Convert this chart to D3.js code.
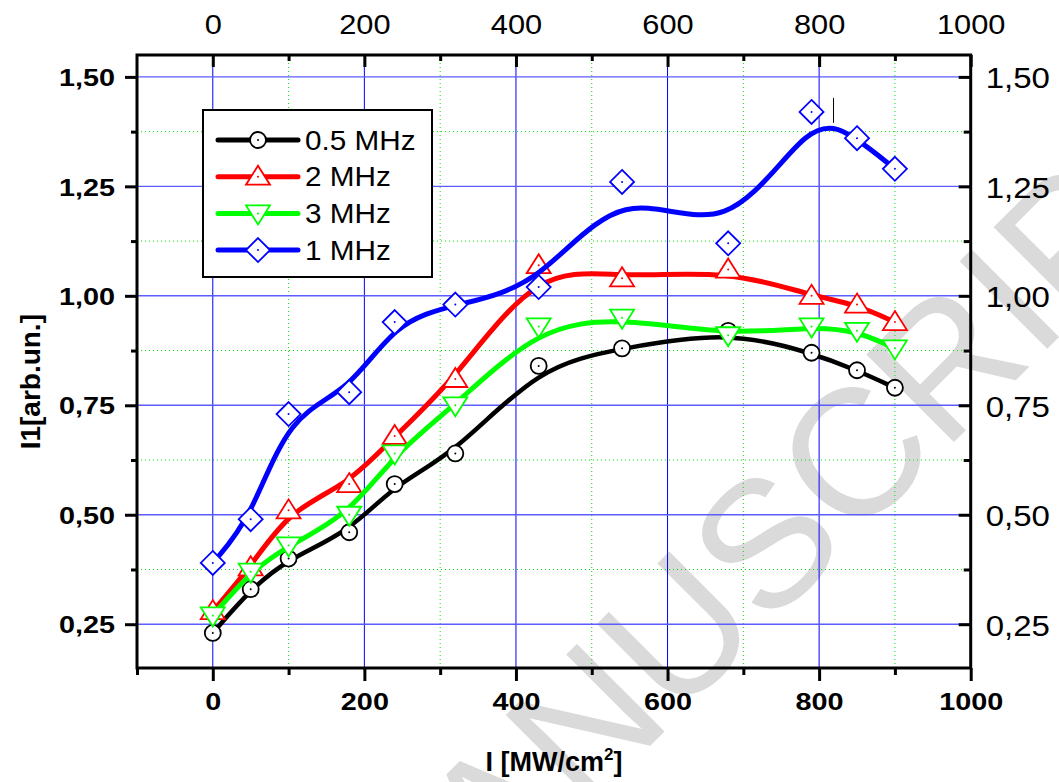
<!DOCTYPE html>
<html>
<head>
<meta charset="utf-8">
<script src="https://cdn.jsdelivr.net/npm/d3@7"></script>
<style>
  body { margin: 0; background: #fff; }
  svg { display: block; }
  text { font-family: Arial, "Liberation Sans", sans-serif; }
</style>
</head>
<body>
<svg id="chart" width="1059" height="782"></svg>
<script>
// intensity, MW/cm2
const intensity = [0, 50, 100, 180, 240, 320, 430, 540, 680, 790, 850, 900];
// I1, arb. units
const mhz05 = [0.23, 0.33, 0.40, 0.46, 0.57, 0.64, 0.84, 0.88, 0.92, 0.87, 0.83, 0.79];
const mhz2  = [0.28, 0.38, 0.51, 0.57, 0.68, 0.81, 1.07, 1.04, 1.06, 1.00, 0.98, 0.94];
const mhz3  = [0.27, 0.37, 0.43, 0.50, 0.64, 0.75, 0.93, 0.95, 0.91, 0.93, 0.92, 0.88];
const mhz1  = [0.39, 0.49, 0.73, 0.78, 0.94, 0.98, 1.02, 1.26, 1.12, 1.42, 1.36, 1.29];

const seriesNames  = ['0.5 MHz', '2 MHz', '3 MHz', '1 MHz'];
const seriesValues = [mhz05, mhz2, mhz3, mhz1];
const seriesColors = ['#000000', '#ff0000', '#00ff00', '#0000ff'];
const seriesShapes = ['circle', 'up', 'down', 'diamond'];

const xTicks = [0, 200, 400, 600, 800, 1000];
const xMinor = [-100, 100, 300, 500, 700, 900];
const yTicks = [0.25, 0.5, 0.75, 1.0, 1.25, 1.5];
const yMinor = [0.375, 0.625, 0.875, 1.125, 1.375];

const svg = d3.select('#chart');
const L = 137, R = 970.7, T = 55, B = 668;
const x = d3.scaleLinear().domain([-100, 1000]).range([L, R]);
const y = d3.scaleLinear().domain([0.15, 1.55]).range([B, T]);
const comma = d => d.toFixed(2).replace('.', ',');

// squeeze/stretch text horizontally like the original export
function stretch(sel, sx) {
  sel.each(function () {
    const t = d3.select(this);
    const tx = +t.attr('x') || 0, ty = +t.attr('y') || 0;
    t.attr('x', 0).attr('y', 0).attr('transform', `translate(${tx},${ty}) scale(${sx},1)`);
  });
}

// watermark
svg.append('text')
  .attr('transform', 'translate(392,1004) rotate(-45)')
  .attr('font-size', 180)
  .attr('fill', '#dadada')
  .text('MANUSCRIPT');

// grid
const grid = svg.append('g');
grid.selectAll('.gmx').data(xMinor.filter(d => d > -100)).enter().append('line')
  .attr('x1', d => x(d)).attr('x2', d => x(d)).attr('y1', T).attr('y2', B)
  .attr('stroke', '#00e000').attr('stroke-width', 1).attr('stroke-dasharray', '1,3');
grid.selectAll('.gmy').data(yMinor).enter().append('line')
  .attr('x1', L).attr('x2', R).attr('y1', d => y(d)).attr('y2', d => y(d))
  .attr('stroke', '#00e000').attr('stroke-width', 1).attr('stroke-dasharray', '1,3');
grid.selectAll('.gx').data(xTicks.filter(d => d < 1000)).enter().append('line')
  .attr('x1', d => x(d)).attr('x2', d => x(d)).attr('y1', T).attr('y2', B)
  .attr('stroke', '#0000ff').attr('stroke-width', 1);
grid.selectAll('.gy').data(yTicks).enter().append('line')
  .attr('x1', L).attr('x2', R).attr('y1', d => y(d)).attr('y2', d => y(d))
  .attr('stroke', '#5c5cff').attr('stroke-width', 1.4);

// axes
function styleTicks(g) {
  g.select('.domain').remove();
  g.selectAll('.tick line').attr('stroke', '#000').attr('stroke-width', 3);
}
const bold = 'bold';

const axB = svg.append('g').attr('transform', `translate(0,${B})`)
  .call(d3.axisBottom(x).tickValues(xTicks).tickSize(13).tickFormat(d3.format('d')));
styleTicks(axB);
axB.selectAll('text').attr('y', 42).attr('dy', 0).attr('fill', '#000')
  .attr('font-size', 24).attr('font-weight', bold);
stretch(axB.selectAll('text'), 1.2);
svg.append('g').attr('transform', `translate(0,${B})`)
  .call(d3.axisBottom(x).tickValues(xMinor).tickSize(7).tickFormat(''))
  .call(styleTicks);

const axT = svg.append('g').attr('transform', `translate(0,${T})`)
  .call(d3.axisTop(x).tickValues(xTicks).tickSize(-12).tickFormat(d3.format('d')));
styleTicks(axT);
axT.selectAll('text').attr('y', -21).attr('dy', 0).attr('fill', '#000').attr('font-size', 28);
stretch(axT.selectAll('text'), 1.1);
svg.append('g').attr('transform', `translate(0,${T})`)
  .call(d3.axisTop(x).tickValues(xMinor.filter(d => d > -100)).tickSize(-6).tickFormat(''))
  .call(styleTicks);

const axL = svg.append('g').attr('transform', `translate(${L},0)`)
  .call(d3.axisLeft(y).tickValues(yTicks).tickSize(12).tickFormat(comma));
styleTicks(axL);
axL.selectAll('text').attr('x', -22).attr('dy', '0.36em').attr('fill', '#000')
  .attr('font-size', 24).attr('font-weight', bold);
stretch(axL.selectAll('text'), 1.2);
svg.append('g').attr('transform', `translate(${L},0)`)
  .call(d3.axisLeft(y).tickValues(yMinor).tickSize(6).tickFormat(''))
  .call(styleTicks);

const axR = svg.append('g').attr('transform', `translate(${R},0)`)
  .call(d3.axisRight(y).tickValues(yTicks).tickSize(-12).tickFormat(comma));
styleTicks(axR);
axR.selectAll('text').attr('x', 15).attr('dy', '0.36em').attr('fill', '#000').attr('font-size', 30);
stretch(axR.selectAll('text'), 1.1);
svg.append('g').attr('transform', `translate(${R},0)`)
  .call(d3.axisRight(y).tickValues(yMinor).tickSize(-7).tickFormat(''))
  .call(styleTicks);

// frame
svg.append('rect').attr('x', L).attr('y', T).attr('width', R - L).attr('height', B - T)
  .attr('fill', 'none').attr('stroke', '#000').attr('stroke-width', 3);

// markers
function markerPath(shape) {
  if (shape === 'circle') return 'M-8,0A8,8 0 1,0 8,0A8,8 0 1,0 -8,0Z';
  if (shape === 'up') return 'M0,-11L12,8L-12,8Z';
  if (shape === 'down') return 'M0,11L12,-8L-12,-8Z';
  return 'M0,-12L12,0L0,12L-12,0Z';
}
function drawMarker(g, shape, color) {
  g.append('path').attr('d', markerPath(shape))
    .attr('fill', '#fff').attr('stroke', color).attr('stroke-width', 1.8);
  g.append('circle').attr('r', 1).attr('fill', color);
}

const line = d3.line().curve(d3.curveBasis).x(d => x(d[0])).y(d => y(d[1]));
seriesValues.forEach((vals, i) => {
  const pts = intensity.map((xv, j) => [xv, vals[j]]);
  const g = svg.append('g');
  g.append('path').datum(pts).attr('d', line)
    .attr('fill', 'none').attr('stroke', seriesColors[i]).attr('stroke-width', i === 0 ? 4.5 : 5)
    .attr('stroke-linejoin', 'round');
  g.selectAll('.m').data(pts).enter().append('g')
    .attr('transform', d => `translate(${x(d[0])},${y(d[1])})`)
    .each(function () { drawMarker(d3.select(this), seriesShapes[i], seriesColors[i]); });
});

// stray tick mark next to the 1 MHz peak
svg.append('line').attr('x1', x(819)).attr('x2', x(819)).attr('y1', y(1.452)).attr('y2', y(1.395))
  .attr('stroke', '#000').attr('stroke-width', 1);

// legend
const lg = svg.append('g').attr('transform', 'translate(203,110)');
lg.append('rect').attr('width', 229).attr('height', 167)
  .attr('fill', '#fff').attr('stroke', '#000').attr('stroke-width', 2);
seriesNames.forEach((name, i) => {
  const row = lg.append('g').attr('transform', `translate(0,${30 + i * 36.7})`);
  row.append('line').attr('x1', 15).attr('x2', 95).attr('stroke', seriesColors[i])
    .attr('stroke-width', 5).attr('stroke-linecap', 'round');
  drawMarker(row.append('g').attr('transform', 'translate(55,0)'), seriesShapes[i], seriesColors[i]);
  const t = row.append('text').attr('x', 102).attr('y', 9.7).attr('font-size', 27).attr('fill', '#000').text(name);
  stretch(t, 1.1);
});

// axis titles
const xt = svg.append('text').attr('x', 554).attr('y', 771).attr('text-anchor', 'middle')
  .attr('font-size', 27).attr('font-weight', bold).attr('fill', '#000');
xt.append('tspan').text('I [MW/cm');
xt.append('tspan').attr('dy', -11).attr('font-size', 17).text('2');
xt.append('tspan').attr('dy', 11).text(']');
svg.append('text').attr('transform', 'translate(40,381.7) rotate(-90)').attr('text-anchor', 'middle')
  .attr('font-size', 28).attr('font-weight', bold).attr('fill', '#000').text('I1[arb.un.]');
</script>
</body>
</html>
